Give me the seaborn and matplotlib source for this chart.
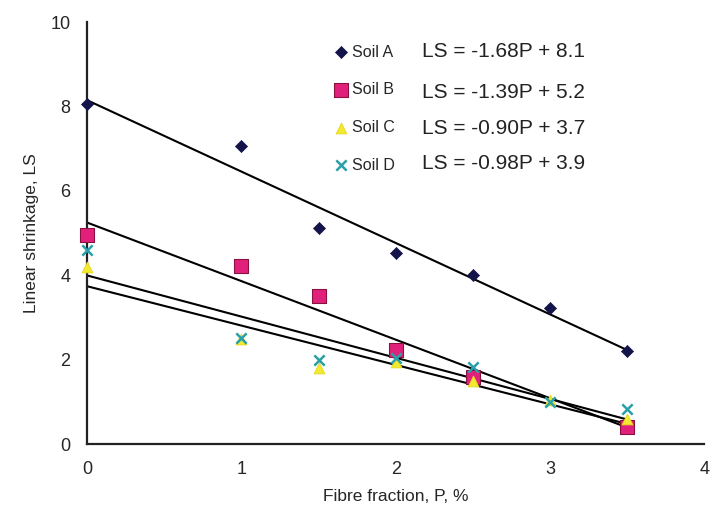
import numpy as np
import pandas as pd
import matplotlib.pyplot as plt
from matplotlib.ticker import MultipleLocator
import seaborn as sns

p_a = [0, 1, 1.5, 2, 2.5, 3, 3.5]
ls_a = [8.05, 7.06, 5.13, 4.54, 4.0, 3.22, 2.21]
p_b = [0, 1, 1.5, 2, 2.5, 3.5]
ls_b = [4.95, 4.23, 3.51, 2.23, 1.6, 0.41]
p_c = [0, 1, 1.5, 2, 2.5, 3, 3.5]
ls_c = [4.2, 2.5, 1.8, 1.95, 1.5, 1.05, 0.6]
p_d = [0, 1, 1.5, 2, 2.5, 3, 3.5]
ls_d = [4.6, 2.52, 2.0, 2.03, 1.83, 1.0, 0.83]

soils = ['Soil A', 'Soil B', 'Soil C', 'Soil D']
equations = ['LS = -1.68P + 8.1', 'LS = -1.39P + 5.2',
             'LS = -0.90P + 3.7', 'LS = -0.98P + 3.9']

sns.set_style('white')
plt.rcParams['font.family'] = ['Liberation Sans', 'DejaVu Sans']

fig = plt.figure(figsize=(7.13, 5.14), dpi=100)
ax = fig.add_axes([0.122, 0.136, 0.866, 0.821])

styles = [
    dict(marker='D', s=38, color='#14144a', edgecolor='#14144a'),
    dict(marker='s', s=95, color='#e0207a', edgecolor='#8a1040'),
    dict(marker='^', s=60, color='#f2ea30', edgecolor='#e8d820'),
    dict(marker='x', s=55, color='#2aa0a8', linewidths=1.8),
]
data = [(p_a, ls_a), (p_b, ls_b), (p_c, ls_c), (p_d, ls_d)]

# linie trendu
for (p, ls), name, st in zip(data, soils, styles):
    df = pd.DataFrame({'P': p, 'LS': ls})
    sns.regplot(data=df, x='P', y='LS', ci=None, truncate=True, ax=ax,
                scatter=False, line_kws=dict(color='black', lw=1.5, zorder=2))
# punkty
for (p, ls), name, st in zip(data, soils, styles):
    df = pd.DataFrame({'P': p, 'LS': ls})
    sns.scatterplot(data=df, x='P', y='LS', ax=ax, label=name, zorder=3,
                    clip_on=False, **st)

ax.set_xlim(0, 4)
ax.set_ylim(0, 10)
ax.xaxis.set_major_locator(MultipleLocator(1))
ax.xaxis.set_minor_locator(MultipleLocator(0.5))
ax.yaxis.set_major_locator(MultipleLocator(2))
ax.yaxis.set_minor_locator(MultipleLocator(1))
ax.tick_params(axis='both', which='both', direction='out', color='#222222',
               width=1.2, labelsize=13)
ax.tick_params(axis='both', which='major', length=6, pad=6)
ax.tick_params(axis='both', which='minor', length=4)
for s in ['top', 'right']:
    ax.spines[s].set_visible(False)
for s in ['left', 'bottom']:
    ax.spines[s].set_color('#222222')
    ax.spines[s].set_linewidth(1.6)

ax.set_xlabel('Fibre fraction, P, %', fontsize=12.5, labelpad=8)
ax.set_ylabel('Linear shrinkage, LS', fontsize=12.5, labelpad=8)

leg = ax.legend(loc='upper left', bbox_to_anchor=(0.385, 0.962), frameon=False,
                fontsize=11.5, handletextpad=0.1, labelspacing=1.42,
                borderaxespad=0, handlelength=1.2)
eq_y = [0.93, 0.832, 0.749, 0.666]
for eq, y in zip(equations, eq_y):
    ax.text(0.543, y, eq, transform=ax.transAxes,
            fontsize=15, va='center', ha='left', color='#222222')

fig.savefig('out.png', dpi=100)
